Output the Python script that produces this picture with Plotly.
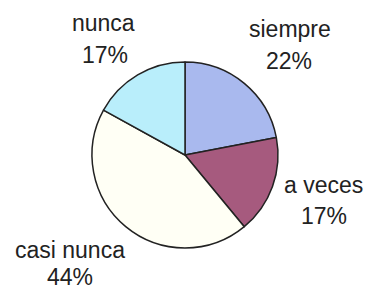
import plotly.graph_objects as go

categories = ["siempre", "a veces", "casi nunca", "nunca"]
percentages = [22, 17, 44, 17]
colors = ["#a9b9ee", "#a65a7e", "#fffff5", "#b9eefb"]

W, H = 371, 295
# label placement (pixel centres) for name line and percent line
name_pos = [(290, 29), (323, 185), (70, 250), (103, 23)]
pct_pos = [(289, 61), (324, 216), (70, 277), (105, 55)]

fig = go.Figure(go.Pie(
    labels=categories,
    values=percentages,
    sort=False,
    direction="clockwise",
    rotation=0,
    textinfo="none",
    hoverinfo="label+percent",
    marker=dict(colors=colors, line=dict(color="#222222", width=1.5)),
    domain=dict(x=[92 / W, 278 / W], y=[1 - 248 / H, 1 - 62 / H]),
    showlegend=False,
))

font = dict(family="Liberation Sans, Arial, sans-serif", size=23, color="#222222")
ann = []
for name, pct, (nx, ny), (px, py) in zip(categories, percentages, name_pos, pct_pos):
    ann.append(dict(x=nx / W, y=1 - ny / H, xref="paper", yref="paper", text=name,
                    showarrow=False, xanchor="center", yanchor="middle", font=font))
    ann.append(dict(x=px / W, y=1 - py / H, xref="paper", yref="paper", text=f"{pct}%",
                    showarrow=False, xanchor="center", yanchor="middle", font=font))

fig.update_layout(
    width=W, height=H,
    margin=dict(l=0, r=0, t=0, b=0),
    paper_bgcolor="white", plot_bgcolor="white",
    annotations=ann,
)

fig.write_html(
    "out.html",
    config={"displayModeBar": False},
    post_script="document.body.style.margin='0';document.body.style.overflow='hidden';",
)
